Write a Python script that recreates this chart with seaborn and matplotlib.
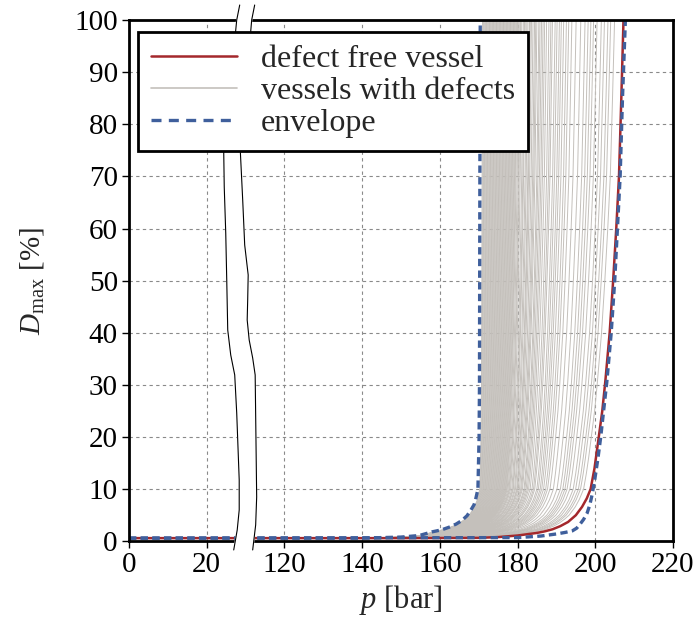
import numpy as np
import pandas as pd
import matplotlib
matplotlib.use("Agg")
import matplotlib.pyplot as plt
import matplotlib.transforms as mtransforms
import seaborn as sns
from matplotlib.lines import Line2D

# defect free vessel
p_free = [0, 150, 170, 175, 180, 185, 187, 189, 191, 193, 195, 196.6, 197.8, 198.8, 199.8,
          200.9, 201.8, 202.6, 203.7, 204.6, 205.4, 206.1, 206.7, 207.3]
d_free = [0.6, 0.6, 0.65, 0.8, 1.1, 1.6, 1.9, 2.3, 2.9, 3.7, 5.0, 6.6, 8.2, 10, 14,
          20, 25, 30.8, 40, 50, 60, 70, 85, 101]

# envelope: left branch and right branch
p_env_lo = [0, 140, 150, 154.7, 158, 160.5, 162.4, 164.2, 165.7, 167, 168, 168.8, 169.2, 169.8,
            170.1, 170.2, 170.3, 170.4]
d_env_lo = [0.6, 0.6, 0.8, 1.1, 1.8, 2.2, 2.7, 3.3, 4, 4.9, 6, 7, 8, 10, 20, 30, 70, 101]
p_env_hi = [0, 180, 186, 190, 192.3, 194.1, 195.2, 196, 197, 197.9, 198.6, 199.2, 199.9,
            200.7, 201.4, 203, 204.1, 205, 205.7, 206.4, 207, 207.8]
d_env_hi = [0.6, 0.7, 1.0, 1.4, 1.7, 2.0, 2.5, 3.2, 4.2, 5.4, 7, 9, 12,
            16, 20, 30.8, 40, 50, 60, 70, 85, 101]

# vessels with defects: pressure at which each curve reaches the top
p_burst = [171.0, 171.2, 171.4, 171.6, 171.8, 172.0, 172.2, 172.4, 172.6, 172.8,
           173.0, 173.2, 173.4, 173.6, 173.8, 174.0, 174.2, 174.4, 174.6, 174.8,
           175.0, 175.2, 175.4, 175.6, 175.8, 176.0, 176.2, 176.4, 176.6, 176.8,
           177.0, 177.2, 177.4, 177.6, 177.8, 178.0, 178.2, 178.4, 178.6, 178.8,
           179.0, 179.2, 179.4, 179.6, 179.8, 180.0,
           180.3, 180.6, 180.8, 181.1, 181.5, 181.8, 182.0, 182.4, 182.7, 183.1,
           183.3, 183.6, 184.0, 184.4, 184.7, 185.0, 185.5, 185.8, 186.2, 186.6, 187.0,
           187.5, 188.1, 188.6, 189.0, 189.7, 190.2, 190.8, 191.3, 191.9, 192.6, 193.2,
           194.0, 195.1, 196.3,
           197.4, 198.2, 198.9, 199.6, 200.5, 201.6, 202.4, 203.3, 204.0, 205.0]
d_levels = [0.65, 0.8, 1.1, 1.4, 1.8, 2.3, 2.9, 3.5, 4.2, 5, 5.8, 6.6, 8, 10, 13, 16, 20, 25,
            30, 40, 50, 60, 70, 85, 101]

x_ticks = [0, 20, 120, 140, 160, 180, 200, 220]


def to_axis(p):
    # broken axis: 0..29 stays, 109.. is shifted left by 80
    p = np.asarray(p, dtype=float)
    return np.where(p <= 29, p, p - 80)


# grey curves lie between the left envelope and the defect free curve
rows = []
lo = np.interp(d_levels, d_env_lo[1:], p_env_lo[1:])
hi = np.interp(d_levels, d_free[1:], p_free[1:])
for i, pb in enumerate(p_burst):
    w = (pb - p_env_lo[-1]) / (p_free[-1] - p_env_lo[-1])
    pc = (1 - w) * lo + w * hi
    rows.append({"curve": i, "p": 0.0, "D": 0.6})
    for pp, dd in zip(pc, d_levels):
        rows.append({"curve": i, "p": pp, "D": dd})
grey = pd.DataFrame(rows)
grey["x"] = to_axis(grey["p"])

free = pd.DataFrame({"x": to_axis(p_free), "D": d_free})
env_lo = pd.DataFrame({"x": to_axis(p_env_lo), "D": d_env_lo})
env_hi = pd.DataFrame({"x": to_axis(p_env_hi), "D": d_env_hi})

sns.set_style("ticks")
plt.rcParams["font.family"] = "serif"
plt.rcParams["font.serif"] = ["Liberation Serif", "DejaVu Serif"]
plt.rcParams["mathtext.fontset"] = "custom"
plt.rcParams["mathtext.rm"] = "Liberation Serif"
plt.rcParams["mathtext.it"] = "Liberation Serif:italic"

red = "#a4282c"
blue = "#3f5f9c"
light = "#c4c0bb"

fig = plt.figure(figsize=(6.99, 6.29), dpi=100)
ax = fig.add_axes([0.1845, 0.1395, 0.7783, 0.8287])

sns.lineplot(data=grey, x="x", y="D", units="curve", estimator=None, sort=False,
             color=light, lw=0.7, ax=ax, zorder=2)
sns.lineplot(data=free, x="x", y="D", estimator=None, sort=False,
             color=red, lw=1.8, ax=ax, zorder=2.3)
for env in (env_lo, env_hi):
    sns.lineplot(data=env, x="x", y="D", estimator=None, sort=False,
                 color=blue, lw=2.4, dashes=False, ax=ax, zorder=2.4)
for l in ax.lines[-2:]:
    l.set_linestyle((0, (2.2, 1.3)))

ax.set_xlim(0, 140)
ax.set_ylim(0, 100)
ax.set_xticks(to_axis(x_ticks))
ax.set_xticklabels([str(t) for t in x_ticks])
ax.set_yticks(range(0, 101, 10))
ax.tick_params(labelsize=21, length=5, width=1, direction="out", colors="black", pad=3)
ax.grid(True, color="#8a8a8a", lw=0.8, linestyle=(0, (3, 3)))
for s in ax.spines.values():
    s.set_linewidth(2.0)
    s.set_color("black")
ax.set_xlabel(r"$p$ [bar]", fontsize=22, labelpad=3)
ax.set_ylabel(r"$D_{\rm max}$ [%]", fontsize=21, labelpad=20)

# axis break marks
px = lambda v: (v - 129) / 3.895
py = lambda v: (541.3 - v) / 521.3
left_px = [(240, 5), (237, 20), (224, 153), (224.5, 187), (226, 233), (227, 280), (228, 330),
           (231, 355), (235, 375), (237, 413), (239.5, 480), (239.5, 510), (237.5, 530), (234, 550)]
right_px = [(255, 5), (252, 20), (240.7, 153), (243, 200), (245, 245), (248.5, 275), (248, 300),
            (247.5, 320), (249.5, 340), (253, 358), (255.5, 375), (257, 497), (256, 525), (253, 550)]
lx = [px(a) for a, b in left_px]
ly = [py(b) for a, b in left_px]
rx = [px(a) for a, b in right_px]
ry = [py(b) for a, b in right_px]
trans = mtransforms.blended_transform_factory(ax.transData, ax.transAxes)
ax.fill(lx + rx[::-1], ly + ry[::-1], color="white", transform=trans, zorder=3, clip_on=False)
ax.plot(lx, ly, color="black", lw=0.8, transform=trans, zorder=3.1, clip_on=False)
ax.plot(rx, ry, color="black", lw=0.8, transform=trans, zorder=3.1, clip_on=False)

handles = [Line2D([], [], color=red, lw=1.8),
           Line2D([], [], color=light, lw=1.2),
           Line2D([], [], color=blue, lw=2.4, linestyle=(0, (3, 2.2)))]
labels = ["defect free vessel", "vessels with defects", "envelope"]
leg = ax.legend(handles, labels, loc="upper left", bbox_to_anchor=(0.017, 0.977),
                borderaxespad=0, fontsize=23, handlelength=2.7, labelspacing=0.08,
                borderpad=0.4, handletextpad=0.75, fancybox=False, framealpha=1,
                edgecolor="black")
leg.get_frame().set_linewidth(2.0)
leg.set_zorder(5)

fig.savefig("out.png", dpi=100)
